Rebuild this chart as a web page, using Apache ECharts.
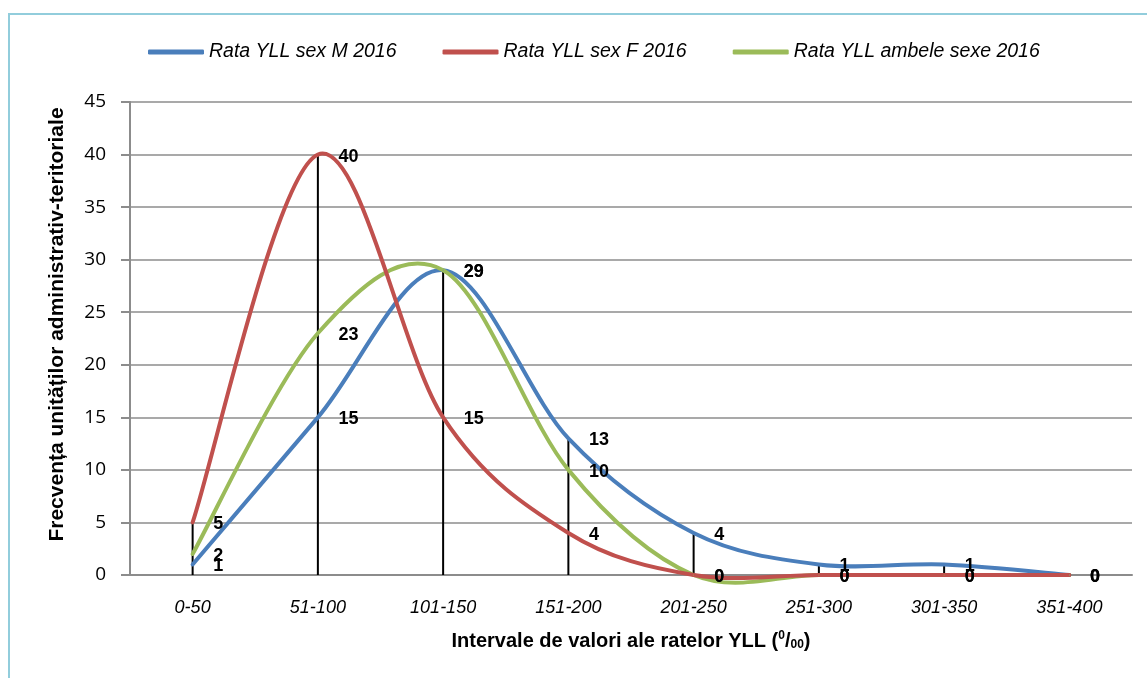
<!DOCTYPE html>
<html>
<head>
<meta charset="utf-8">
<script src="https://cdn.jsdelivr.net/npm/echarts@6/dist/echarts.min.js"></script>
<style>
  html, body { margin: 0; padding: 0; background: #fff; }
  #frame {
    position: absolute; left: 8px; top: 13px; width: 1160px; height: 700px;
    border-top: 2px solid #92cddc; border-left: 2px solid #92cddc;
  }
  #charts { position: absolute; left: 0; top: 0; width: 1147px; height: 678px; }
</style>
</head>
<body>
<div id="frame"></div>
<div id="charts"></div>
<script>
const categories = ['0-50', '51-100', '101-150', '151-200', '201-250', '251-300', '301-350', '351-400']
const yllM = [1, 15, 29, 13, 4, 1, 1, 0]
const yllF = [5, 40, 15, 4, 0, 0, 0, 0]
const yllBoth = [2, 23, 29, 10, 0, 0, 0, 0]
const seriesNames = ['Rata YLL sex M 2016', 'Rata YLL sex F 2016', 'Rata YLL ambele sexe 2016']
const colors = ['#4a7ebb', '#c0504d', '#9bbb59']

// vertical drop lines go from the highest value down to the axis
const dropLines = categories.map((c, i) => Math.max(yllM[i], yllF[i], yllBoth[i]))

const font = "'Liberation Sans', Arial, sans-serif"

// labels + legend entry; the visible curve is drawn by curveSeries
function labelSeries(name, data, color) {
  return {
    name: name,
    type: 'line',
    data: data,
    symbol: 'circle',
    symbolSize: 1,
    z: 5,
    lineStyle: { width: 0, opacity: 0 },
    itemStyle: { color: color },
    label: {
      show: true,
      position: 'right',
      distance: 20,
      offset: [0, 2],
      color: '#000',
      fontFamily: font,
      fontWeight: 'bold',
      fontSize: 18
    }
  }
}

// excel-like smoothed line (cardinal spline through the points)
function curveSeries(data, color, z) {
  return {
    type: 'custom',
    data: data,
    z: z,
    silent: true,
    renderItem(params, api) {
      if (params.dataIndex !== 0) return null
      const pts = data.map((v, i) => api.coord([i, v]))
      const n = pts.length
      const p = i => pts[Math.max(0, Math.min(n - 1, i))]
      let d = 'M' + pts[0][0] + ' ' + pts[0][1]
      for (let i = 0; i < n - 1; i++) {
        const a = p(i - 1), b = p(i), c = p(i + 1), e = p(i + 2)
        const c1 = [b[0] + (c[0] - a[0]) / 6, b[1] + (c[1] - a[1]) / 6]
        const c2 = [c[0] - (e[0] - b[0]) / 6, c[1] - (e[1] - b[1]) / 6]
        d += ' C' + c1.join(' ') + ' ' + c2.join(' ') + ' ' + c.join(' ')
      }
      return {
        type: 'path',
        shape: { pathData: d },
        style: { fill: 'none', stroke: color, lineWidth: 4, lineCap: 'round', lineJoin: 'round' }
      }
    }
  }
}

const charts = echarts.init(document.getElementById('charts'))
const option = {
  animation: false,
  grid: { left: 130, right: 15, top: 102, bottom: 103 },
  legend: {
    data: seriesNames,
    top: 37,
    left: 143,
    icon: 'roundRect',
    itemWidth: 56,
    itemHeight: 5,
    itemGap: 46,
    textStyle: {
      fontFamily: font,
      fontStyle: 'italic',
      fontSize: 19.5,
      color: '#000'
    }
  },
  xAxis: {
    type: 'category',
    data: categories,
    boundaryGap: true,
    axisLine: { lineStyle: { color: '#8c8c8c', width: 2 } },
    axisTick: { show: false },
    axisLabel: {
      margin: 24,
      fontFamily: font,
      fontStyle: 'italic',
      fontSize: 18,
      color: '#000'
    },
    name: '{t|Intervale de valori ale ratelor YLL (}{sup|0}{t|/}{sub|00}{t|)}',
    nameLocation: 'middle',
    nameGap: 55,
    nameTextStyle: {
      rich: {
        t: { fontFamily: font, fontWeight: 'bold', fontSize: 20, color: '#000' },
        sup: { fontFamily: font, fontWeight: 'bold', fontSize: 12, color: '#000', padding: [0, 0, 10, 0] },
        sub: { fontFamily: font, fontWeight: 'bold', fontSize: 12, color: '#000', padding: [8, 0, 0, 0] }
      }
    }
  },
  yAxis: {
    type: 'value',
    min: 0,
    max: 45,
    interval: 5,
    axisLine: { show: true, lineStyle: { color: '#8c8c8c', width: 2 } },
    axisTick: { show: true, length: 9, lineStyle: { color: '#8c8c8c', width: 2 } },
    splitLine: { lineStyle: { color: '#8c8c8c', width: 1.5 } },
    axisLabel: {
      margin: 24,
      fontFamily: "'Open Sans', sans-serif",
      fontSize: 19,
      color: '#000'
    },
    name: 'Frecvența unităților administrativ-teritoriale',
    nameLocation: 'middle',
    nameGap: 62,
    nameTextStyle: { fontFamily: font, fontWeight: 'bold', fontSize: 21, color: '#000', padding: [0, 0, 0, 28] }
  },
  series: [
    {
      name: 'drop',
      type: 'bar',
      data: dropLines,
      barWidth: 2,
      z: 1,
      itemStyle: { color: '#000' },
      silent: true
    },
    curveSeries(yllM, colors[0], 2),
    curveSeries(yllBoth, colors[2], 3),
    curveSeries(yllF, colors[1], 4),
    labelSeries(seriesNames[0], yllM, colors[0]),
    labelSeries(seriesNames[1], yllF, colors[1]),
    labelSeries(seriesNames[2], yllBoth, colors[2])
  ]
}
charts.setOption(option)
</script>
</body>
</html>
